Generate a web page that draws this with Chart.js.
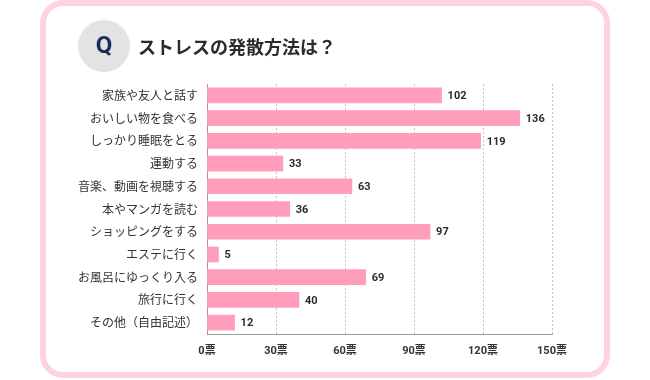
<!DOCTYPE html>
<html><head><meta charset="utf-8">
<script src="https://cdn.jsdelivr.net/npm/chart.js@4"></script>
<style>html,body{margin:0;padding:0;background:#fff;}#wrap{width:650px;height:380px;}</style>
</head><body><div id="wrap"><canvas id="c" width="650" height="380"></canvas></div>
<script>
const title = 'ストレスの発散方法は？';
const categories = ['家族や友人と話す','おいしい物を食べる','しっかり睡眠をとる','運動する','音楽、動画を視聴する','本やマンガを読む','ショッピングをする','エステに行く','お風呂にゆっくり入る','旅行に行く','その他（自由記述）'];
const votes = [102,136,119,33,63,36,97,5,69,40,12];
const tickValues = [0,30,60,90,120,150];
const tickUnit = '票';

const JP = '"Noto Sans CJK JP", "Noto Sans", sans-serif';

const framePlugin = {
  id: 'frame',
  beforeDraw(chart) {
    const ctx = chart.ctx;
    ctx.save();
    ctx.fillStyle = '#fff';
    ctx.fillRect(0,0,chart.width,chart.height);
    // rounded pink frame
    const x=43,y=3,w=564,h=372,r=20;
    ctx.beginPath();
    ctx.moveTo(x+r,y);
    ctx.arcTo(x+w,y,x+w,y+h,r);
    ctx.arcTo(x+w,y+h,x,y+h,r);
    ctx.arcTo(x,y+h,x,y,r);
    ctx.arcTo(x,y,x+w,y,r);
    ctx.closePath();
    ctx.lineWidth = 6;
    ctx.strokeStyle = '#ffd3de';
    ctx.stroke();
    // Q circle
    ctx.beginPath();
    ctx.arc(104,46,26,0,Math.PI*2);
    ctx.fillStyle = '#e3e3e3';
    ctx.fill();
    ctx.fillStyle = '#1e2b5e';
    ctx.font = 'bold 24px Roboto, ' + JP;
    ctx.textAlign = 'center';
    ctx.textBaseline = 'middle';
    ctx.fillText('Q',104,47);
    // title
    ctx.fillStyle = '#2b2b2b';
    ctx.font = 'bold 18px ' + JP;
    ctx.textAlign = 'left';
    ctx.fillText(title,138,47);
    ctx.restore();
  },
  afterDatasetsDraw(chart) {
    const ctx = chart.ctx;
    const meta = chart.getDatasetMeta(0);
    ctx.save();
    ctx.fillStyle = '#2b2b2b';
    ctx.font = 'bold 11px Roboto, sans-serif';
    ctx.textAlign = 'left';
    ctx.textBaseline = 'middle';
    meta.data.forEach((bar,i) => {
      ctx.fillText(String(votes[i]), bar.x + 6, bar.y + 1);
    });
    ctx.restore();
  }
};

new Chart(document.getElementById('c'), {
  type: 'bar',
  data: {
    labels: categories,
    datasets: [{
      data: votes,
      backgroundColor: '#ff9dbb',
      borderWidth: 0,
      barThickness: 15
    }]
  },
  options: {
    indexAxis: 'y',
    responsive: false,
    animation: false,
    devicePixelRatio: 1,
    layout: { padding: { top: 84, right: 98, left: 0, bottom: 0 } },
    plugins: { legend: { display: false }, tooltip: { enabled: false } },
    scales: {
      x: {
        min: 0, max: 150,
        afterBuildTicks(scale) { scale.ticks = tickValues.map(v => ({value: v})); },
        afterFit(scale) { scale.height = 46; },
        ticks: {
          callback: (v) => v + tickUnit,
          color: '#333',
          font: { family: 'Roboto, ' + JP, size: 11, weight: 'bold' },
          padding: 11,
          maxRotation: 0
        },
        grid: { color: '#c4c4c4', lineWidth: 1, drawTicks: false },
        border: { display: true, color: '#9a9a9a', width: 1, dash: [2,2] }
      },
      y: {
        afterFit(scale) { scale.width = 207; },
        ticks: {
          color: '#333',
          font: { family: JP, size: 12 },
          padding: 9,
          autoSkip: false
        },
        grid: { display: false, drawTicks: false },
        border: { display: true, color: '#9a9a9a', width: 1 }
      }
    }
  },
  plugins: [framePlugin]
});
</script>
</body></html>
